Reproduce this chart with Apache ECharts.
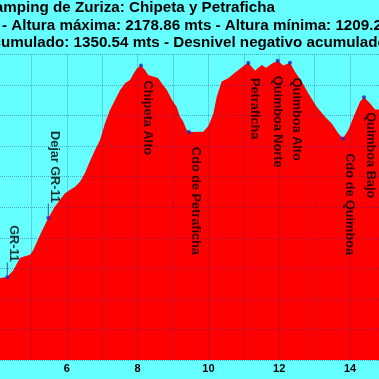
<!DOCTYPE html>
<html>
<head>
<meta charset="utf-8">
<script src="https://cdn.jsdelivr.net/npm/echarts@6/dist/echarts.min.js"></script>
<style>
html,body{margin:0;padding:0;background:#66FFFF;}
#chart{width:379px;height:379px;}
</style>
</head>
<body>
<div id="chart"></div>
<script>
// ---- data ----
const kms = [4.0, 4.113, 4.319, 4.489, 4.678, 4.771, 4.960, 5.054, 5.243, 5.477, 5.667, 5.808, 5.949, 6.090, 6.232, 6.373, 6.514, 6.655, 6.797, 6.938, 7.079, 7.220, 7.362, 7.503, 7.644, 7.785, 7.898, 7.983, 8.096, 8.209, 8.302, 8.435, 8.576, 8.718, 8.831, 8.972, 9.105, 9.198, 9.282, 9.387, 9.452, 9.856, 9.997, 10.138, 10.234, 10.376, 10.562, 10.703, 10.808, 10.941, 11.006, 11.127, 11.316, 11.506, 11.627, 11.788, 11.958, 12.116, 12.305, 12.446, 12.636, 12.822, 13.059, 13.294, 13.483, 13.669, 13.802, 13.952, 14.141, 14.282, 14.395, 14.565, 14.706, 14.819, 15.0];
const elev = [1468, 1468, 1472, 1494, 1534, 1538, 1544, 1560, 1609, 1665, 1702, 1724, 1746, 1756, 1767, 1783, 1812, 1851, 1887, 1920, 1975, 2018, 2051, 2083, 2106, 2116, 2139, 2155, 2164, 2149, 2133, 2128, 2123, 2100, 2083, 2051, 2028, 1996, 1982, 1953, 1946, 1947, 1966, 2005, 2061, 2111, 2122, 2136, 2146, 2157, 2164, 2172, 2147, 2165, 2156, 2169, 2178.86, 2164, 2173, 2143, 2111, 2073, 2029, 1996, 1974, 1942, 1925, 1953, 2007, 2045, 2060, 2040, 2020, 2020, 2015];

const wpNames = ["GR-11", "Dejar GR-11", "Chipeta Alto", "Cdo de Petraficha", "Petraficha", "Quimboa Norte", "Quimboa Alto", "Cdo de Quimboa", "Quimboa Bajo"];
const wpKm = [4.319, 5.477, 8.096, 9.452, 11.127, 11.958, 12.305, 13.802, 14.395];
const wpElev = [1472, 1665, 2164, 1946, 2172, 2178.86, 2173, 1925, 2060];

const xTicks = [6, 8, 10, 12, 14];

const title1 = "Camping de Zuriza: Chipeta y Petraficha";
const title2 = "- Altura máxima: 2178.86 mts - Altura mínima: 1209.2";
const title3 = "acumulado: 1350.54 mts - Desnivel negativo acumulado";

// ---- build ----
const FONT = '"Liberation Sans", Arial, sans-serif';
const chart = echarts.init(document.getElementById('chart'), null, {renderer: 'canvas'});

const profile = kms.map((k, i) => [k, elev[i]]);
const wpData = wpNames.map((n, i) => {
  const above = wpElev[i] < 1800;
  const crowded = i + 1 < wpKm.length && wpKm[i + 1] - wpKm[i] < 0.45;
  const lbl = {
    position: above ? 'top' : 'bottom',
    align: above ? 'right' : 'left'
  };
  if (crowded) lbl.offset = [0, 7];
  return {value: [wpKm[i], wpElev[i]], name: n, label: lbl};
});
const leaderData = wpNames.map((n, i) => [wpKm[i], wpElev[i]]).filter(d => d[1] < 1800);

const meas = document.createElement('canvas').getContext('2d');
meas.font = 'bold 15.2px ' + FONT;
const acW = meas.measureText('ac').width;

const gridColor = 'rgba(40,40,140,0.42)';

chart.setOption({
  backgroundColor: '#66FFFF',
  animation: false,
  grid: {left: -4, right: -6.4, top: 54.4, bottom: 19, containLabel: false, outerBoundsMode: 'none'},
  xAxis: {
    type: 'value', min: 4, max: 15, interval: 1, z: 5,
    axisLine: {show: false}, axisTick: {show: false},
    splitLine: {show: true, lineStyle: {color: gridColor, type: 'dotted', width: 1}},
    axisLabel: {
      show: true, margin: 3, color: '#000', fontWeight: 'bold', fontSize: 11, fontFamily: FONT,
      formatter: v => xTicks.indexOf(v) >= 0 ? String(v) : ''
    }
  },
  yAxis: {
    type: 'value', min: 1200, max: 2200, interval: 100, z: 5,
    axisLine: {show: false}, axisTick: {show: false}, axisLabel: {show: false},
    splitLine: {show: true, lineStyle: {color: gridColor, type: 'dotted', width: 1}}
  },
  series: [
    {
      type: 'line', data: profile, showSymbol: false, smooth: false,
      lineStyle: {width: 0, color: '#FF0000'},
      areaStyle: {color: '#FF0000', opacity: 1},
      z: 2, silent: true
    },
    {
      type: 'scatter', data: leaderData, symbol: 'rect', symbolSize: [1, 13], symbolOffset: [0, -8],
      itemStyle: {color: '#303070'}, z: 6, silent: true
    },
    {
      type: 'scatter', data: wpData, symbol: 'circle', symbolSize: 4,
      itemStyle: {color: '#2020C0'}, z: 7, silent: true,
      label: {
        show: true, formatter: p => p.name, rotate: -90, distance: 13,
        verticalAlign: 'bottom',
        color: '#000', fontWeight: 'bold', fontSize: 12.7, fontFamily: FONT
      }
    }
  ],
  graphic: [
    {type: 'text', x: 275, y: 8, z: 10, style: {text: title1, font: 'bold 15.2px ' + FONT, fill: '#000', align: 'right', verticalAlign: 'middle'}},
    {type: 'text', x: 2, y: 25.7, z: 10, style: {text: title2, font: 'bold 15.2px ' + FONT, fill: '#000', align: 'left', verticalAlign: 'middle'}},
    {type: 'text', x: 1 - acW, y: 43, z: 10, style: {text: title3, font: 'bold 15.2px ' + FONT, fill: '#000', align: 'left', verticalAlign: 'middle'}}
  ]
});
</script>
</body>
</html>
